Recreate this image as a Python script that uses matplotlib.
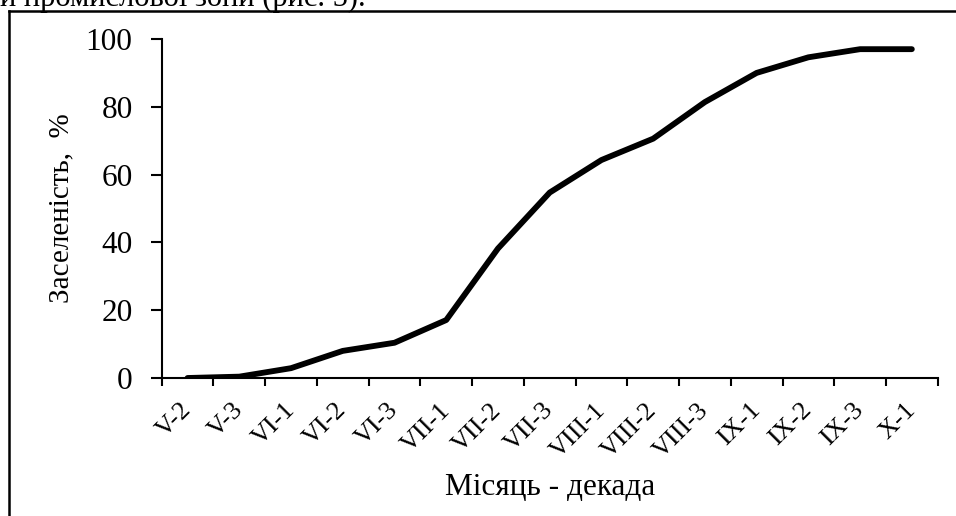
import matplotlib
matplotlib.use("Agg")
import matplotlib.pyplot as plt
from matplotlib.lines import Line2D
import matplotlib.transforms as mtransforms
import numpy as np

categories = ["V-2", "V-3", "VI-1", "VI-2", "VI-3", "VII-1", "VII-2", "VII-3",
              "VIII-1", "VIII-2", "VIII-3", "IX-1", "IX-2", "IX-3", "X-1"]
values = [0, 0.4, 2.9, 8.0, 10.4, 17.1, 38.2, 54.7, 64.3, 70.6, 81.4, 90.0, 94.6, 97.0, 97.0]
yticks = [0, 20, 40, 60, 80, 100]

plt.rcParams['font.family'] = ['Liberation Serif', 'DejaVu Serif']

fig = plt.figure(figsize=(9.56, 5.16), dpi=100)
W, H = 956, 516
ax = fig.add_axes([161.7 / W, 1 - 378 / H, (937.7 - 161.7) / W, (378 - 39) / H])

x = np.arange(len(categories))
ax.plot(x, values, color='black', lw=4.2, solid_capstyle='round', solid_joinstyle='round')

ax.set_xlim(-0.5, len(categories) - 0.5)
ax.set_ylim(0, 100)
ax.set_yticks(yticks)
ax.set_xticks(x)
ax.set_xticklabels(categories, rotation=45, ha='right', va='top', fontsize=19)
ax.set_xticks(np.arange(-0.5, len(categories), 1.0), minor=True)
ax.tick_params(axis='x', which='major', length=0, pad=13)
ax.tick_params(axis='x', which='minor', length=6, width=1.5, direction='out')
ax.tick_params(axis='y', length=8, width=1.5, direction='out', pad=13, labelsize=22.5)

offset = mtransforms.ScaledTranslation(8 / 100, -3 / 100, fig.dpi_scale_trans)
for lab in ax.get_xticklabels():
    lab.set_transform(lab.get_transform() + offset)

for s in ['top', 'right']:
    ax.spines[s].set_visible(False)
for s in ['left', 'bottom']:
    ax.spines[s].set_linewidth(1.5)

ax.set_ylabel("Заселеність,  %", fontsize=21, labelpad=8)
ax.set_xlabel("Місяць - декада", fontsize=22.5, labelpad=8)

# outer frame (left and top edges visible)
fig.add_artist(Line2D([9 / W, 9 / W], [0, 1 - 11 / H], transform=fig.transFigure, color='black', lw=1.8))
fig.add_artist(Line2D([9 / W, 1], [1 - 11 / H, 1 - 11 / H], transform=fig.transFigure, color='black', lw=1.8))

# clipped line of document text above the chart
fig.text(0, 1 - 6 / H, "и промислової зони (рис. 5).", fontsize=22, ha='left', va='baseline')

fig.savefig("out.png", dpi=100)
